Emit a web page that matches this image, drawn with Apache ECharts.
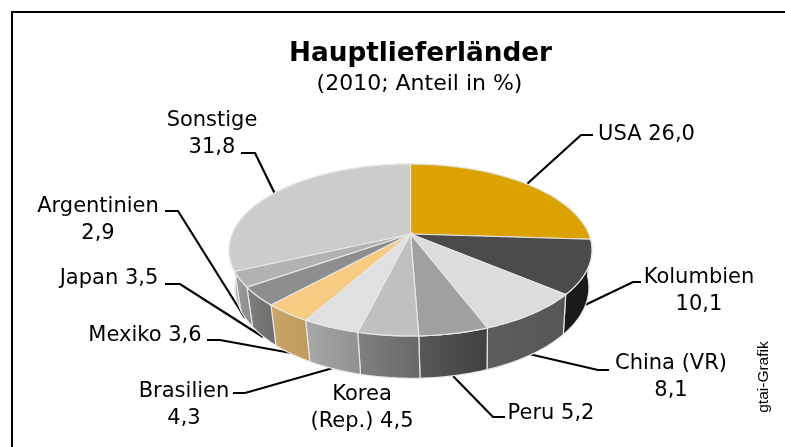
<!DOCTYPE html>
<html><head><meta charset="utf-8">
<style>html,body{margin:0;padding:0;background:#fff}#c{width:785px;height:447px}</style>
<script src="https://cdn.jsdelivr.net/npm/echarts@6/dist/echarts.min.js"></script>
</head><body><div id="c"></div>
<script>
const categories = ['USA','Kolumbien','China (VR)','Peru','Korea (Rep.)','Brasilien','Mexiko','Japan','Argentinien','Sonstige'];
const shares = [26.0,10.1,8.1,5.2,4.5,4.3,3.6,3.5,2.9,31.8];
const topColors = ['#dca300','#4b4b4b','#dcdcdc','#a0a0a0','#c0c0c0','#e0e0e0','#f6cb82','#8e8e8e','#b2b2b2','#cccccc'];
const sideFrom = ['#b08000','#1a1a1a','#5e5e5e','#585858','#808080','#a8a8a8','#c8a468','#808080','#a0a0a0','#b0b0b0'];
const sideTo   = ['#b08000','#1a1a1a','#565656','#404040','#686868','#909090','#c09a5c','#6c6c6c','#888888','#a0a0a0'];
const labelLines = [['USA 26,0'],['Kolumbien','10,1'],['China (VR)','8,1'],['Peru 5,2'],['Korea','(Rep.) 4,5'],['Brasilien','4,3'],['Mexiko 3,6'],['Japan 3,5'],['Argentinien','2,9'],['Sonstige','31,8']];
const labelCenter = [[646.5,134.5],[699,291],[671,377],[551,413.5],[362,408.5],[184,405.5],[145,335.5],[109,278.5],[98,220],[212,134]];
const leaderPaths = [
 [[527,184],[581,135],[593,135]],
 [[583,306],[633,282],[641,282]],
 [[529,354],[598,370],[609,370]],
 [[453,376],[493,417],[505,417]],
 null,
 [[333,368],[245,393],[233,393]],
 [[291,353],[220,340],[207,340]],
 [[263,337],[180,284],[165,284]],
 [[245,318],[178,211],[165,211]],
 [[275,194],[255,153],[241,153]]
];
const pie = {x:410.5,y:234,A:178.3,B:83,k:0.186,C:36.5,s:0.975,dx:1.5};
function pt(theta,down){
  const u=Math.sin(theta),v=-Math.cos(theta),w=1-pie.k*v;
  const sc=down?pie.s:1;
  return [pie.x+(down?pie.dx:0)+pie.A*u*sc/w, pie.y+(pie.B*v*sc+(down?pie.C:0))/w];
}
function arc(a,b,down){const n=Math.max(4,Math.ceil((b-a)*60)),r=[];for(let i=0;i<=n;i++)r.push(pt(a+(b-a)*i/n,down));return r;}
const total=shares.reduce((a,b)=>a+b,0);
const rows=[];let acc=0;
shares.forEach((v,i)=>{rows.push([i,acc,acc+v]);acc+=v;});
const EDGE='#e6e6e6';
function drawSide(params,api){
  const i=api.value(0),a=api.value(1)/total*2*Math.PI,b=api.value(2)/total*2*Math.PI;
  const top=arc(a,b,false),bot=arc(a,b,true).reverse();
  return {type:'polygon',shape:{points:top.concat(bot)},style:{
    fill:{type:'linear',x:0,y:0,x2:1,y2:0,colorStops:[{offset:0,color:sideFrom[i]},{offset:1,color:sideTo[i]}]},
    stroke:EDGE,lineWidth:1.2}};
}
function drawTop(params,api){
  const i=api.value(0),a=api.value(1)/total*2*Math.PI,b=api.value(2)/total*2*Math.PI;
  return {type:'polygon',shape:{points:[[pie.x,pie.y]].concat(arc(a,b,false))},style:{fill:topColors[i],stroke:EDGE,lineWidth:1.2}};
}
const graphics=[
 {type:'polyline',shape:{points:[[12,448],[12,12],[786,12]]},style:{stroke:'#000',lineWidth:2,fill:null}},
 {type:'text',x:420.5,y:54,style:{text:'Hauptlieferländer',font:'bold 26.3px "DejaVu Sans"',fill:'#000',textAlign:'center',textVerticalAlign:'middle'}},
 {type:'text',x:419.5,y:84,style:{text:'(2010; Anteil in %)',font:'22px "DejaVu Sans"',fill:'#000',textAlign:'center',textVerticalAlign:'middle'}},
 {type:'text',x:764,y:377,rotation:Math.PI/2,style:{text:'gtai-Grafik',font:'15.5px "Liberation Sans"',fill:'#000',textAlign:'center',textVerticalAlign:'middle'}}
];
categories.forEach((c,i)=>{
  graphics.push({type:'text',x:labelCenter[i][0],y:labelCenter[i][1],style:{text:labelLines[i].join('\n'),font:'21px "DejaVu Sans"',lineHeight:27,fill:'#000',textAlign:'center',textVerticalAlign:'middle'}});
  if(leaderPaths[i])graphics.push({type:'polyline',shape:{points:leaderPaths[i]},style:{stroke:'#000',lineWidth:2.2,fill:null}});
});
const chart=echarts.init(document.getElementById('c'),null,{renderer:'canvas'});
chart.setOption({
  animation:false,
  graphic:graphics,
  series:[
    {type:'custom',coordinateSystem:'none',renderItem:drawSide,data:rows,z:1,silent:true},
    {type:'custom',coordinateSystem:'none',renderItem:drawTop,data:rows,z:2,silent:true}
  ]
});
</script></body></html>
